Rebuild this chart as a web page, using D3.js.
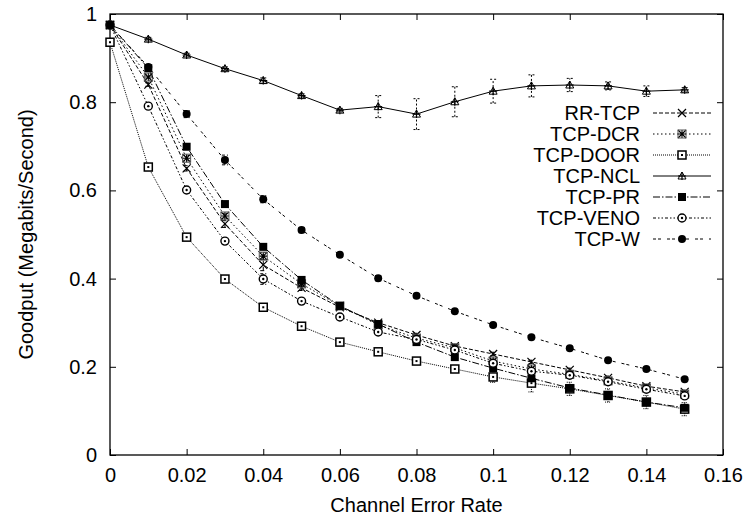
<!DOCTYPE html>
<html>
<head>
<meta charset="utf-8">
<script src="https://cdn.jsdelivr.net/npm/d3@7"></script>
<style>
body { margin: 0; background: #fff; }
text { font-family: "Liberation Sans", Arial, Helvetica, sans-serif; }
</style>
</head>
<body>
<div id="container"></div>
<script>
// values
const errorRate = [0, 0.01, 0.02, 0.03, 0.04, 0.05, 0.06, 0.07, 0.08, 0.09, 0.10, 0.11, 0.12, 0.13, 0.14, 0.15];
const seriesNames = ["RR-TCP", "TCP-DCR", "TCP-DOOR", "TCP-NCL", "TCP-PR", "TCP-VENO", "TCP-W"];

const rrTcp   = [0.975, 0.840, 0.650, 0.524, 0.431, 0.379, 0.335, 0.300, 0.272, 0.247, 0.229, 0.211, 0.193, 0.175, 0.156, 0.143];
const tcpDcr  = [0.975, 0.857, 0.673, 0.542, 0.451, 0.388, 0.338, 0.295, 0.265, 0.243, 0.213, 0.195, 0.183, 0.168, 0.152, 0.138];
const tcpDoor = [0.936, 0.653, 0.494, 0.399, 0.335, 0.292, 0.256, 0.234, 0.213, 0.195, 0.177, 0.163, 0.150, 0.135, 0.120, 0.104];
const tcpNcl  = [0.975, 0.943, 0.907, 0.876, 0.849, 0.815, 0.782, 0.790, 0.773, 0.801, 0.825, 0.837, 0.839, 0.837, 0.825, 0.828];
const tcpPr   = [0.975, 0.877, 0.699, 0.569, 0.472, 0.397, 0.338, 0.297, 0.256, 0.222, 0.197, 0.174, 0.152, 0.136, 0.120, 0.107];
const tcpVeno = [0.975, 0.791, 0.601, 0.485, 0.399, 0.349, 0.313, 0.279, 0.262, 0.238, 0.208, 0.190, 0.181, 0.166, 0.149, 0.134];
const tcpW    = [0.975, 0.880, 0.773, 0.669, 0.580, 0.510, 0.454, 0.401, 0.361, 0.326, 0.295, 0.267, 0.242, 0.215, 0.195, 0.172];

// half-widths of the error bars
const rrTcpErr   = [0, 0.004, 0.006, 0.008, 0.013, 0.006, 0.005, 0.005, 0.004, 0.004, 0.004, 0.004, 0.004, 0.004, 0.004, 0.004];
const tcpDcrErr  = [0, 0.004, 0.006, 0.006, 0.008, 0.005, 0.004, 0.004, 0.004, 0.004, 0.004, 0.004, 0.004, 0.004, 0.004, 0.004];
const tcpDoorErr = [0, 0, 0, 0, 0, 0, 0, 0, 0, 0, 0.012, 0.02, 0.015, 0.015, 0.015, 0.015];
const tcpNclErr  = [0, 0.004, 0.004, 0.004, 0.006, 0.004, 0.004, 0.025, 0.035, 0.034, 0.027, 0.025, 0.015, 0.009, 0.012, 0.005];
const tcpPrErr   = [0, 0.004, 0.005, 0.005, 0.005, 0.005, 0.004, 0.004, 0.004, 0.004, 0.004, 0.004, 0.004, 0.004, 0.004, 0.004];
const tcpVenoErr = [0, 0.004, 0.005, 0.005, 0.012, 0.005, 0.004, 0.004, 0.004, 0.004, 0.004, 0.004, 0.004, 0.004, 0.004, 0.004];
const tcpWErr    = [0, 0.005, 0.008, 0.011, 0.008, 0.006, 0.005, 0.006, 0.005, 0.004, 0.004, 0.004, 0.004, 0.004, 0.004, 0.004];

const xTicks = [0, 0.02, 0.04, 0.06, 0.08, 0.1, 0.12, 0.14, 0.16];
const yTicks = [0, 0.2, 0.4, 0.6, 0.8, 1];

// styles per series (gnuplot-like dash types and point types)
const dashes  = ["4,2", "1.5,2.5", "1,1", null, "7,2,1.5,2", "3,2,1.5,2,1.5,2", "3,2,3,6"];
const markers = ["cross", "star", "square", "plus", "squareFill", "circleDot", "circleFill"];
const values  = [rrTcp, tcpDcr, tcpDoor, tcpNcl, tcpPr, tcpVeno, tcpW];
const errors  = [rrTcpErr, tcpDcrErr, tcpDoorErr, tcpNclErr, tcpPrErr, tcpVenoErr, tcpWErr];

const series = seriesNames.map((name, i) => ({
    name: name,
    dash: dashes[i],
    marker: markers[i],
    points: errorRate.map((x, j) => ({ x: x, y: values[i][j], e: errors[i][j] }))
}));

const width = 751, height = 524;
const plotLeft = 110, plotRight = 723, plotTop = 14, plotBottom = 455;

const x = d3.scaleLinear().domain([0, 0.16]).range([plotLeft, plotRight]);
const y = d3.scaleLinear().domain([0, 1]).range([plotBottom, plotTop]);

const svg = d3.select("#container").append("svg")
    .attr("width", width)
    .attr("height", height)
    .style("display", "block");

// axes, ticks inward on all sides
const fmt = d => d === 0 ? "0" : d3.format("~g")(d);

const xAxis = svg.append("g")
    .attr("transform", `translate(0,${plotBottom})`)
    .call(d3.axisBottom(x).tickValues(xTicks).tickFormat(fmt).tickSizeInner(-6).tickSizeOuter(0).tickPadding(13));
const xAxisTop = svg.append("g")
    .attr("transform", `translate(0,${plotTop})`)
    .call(d3.axisTop(x).tickValues(xTicks).tickFormat("").tickSizeInner(-6).tickSizeOuter(0));
const yAxis = svg.append("g")
    .attr("transform", `translate(${plotLeft},0)`)
    .call(d3.axisLeft(y).tickValues(yTicks).tickFormat(fmt).tickSizeInner(-6).tickSizeOuter(0).tickPadding(13));
const yAxisRight = svg.append("g")
    .attr("transform", `translate(${plotRight},0)`)
    .call(d3.axisRight(y).tickValues(yTicks).tickFormat("").tickSizeInner(-6).tickSizeOuter(0));

[xAxis, xAxisTop, yAxis, yAxisRight].forEach(a => {
    a.select(".domain").remove();
    a.selectAll(".tick line").attr("stroke", "#000").attr("stroke-width", 1);
    a.selectAll("text").attr("font-size", 20).attr("fill", "#000")
        .attr("font-family", "'Liberation Sans', Arial, sans-serif");
});

svg.append("rect")
    .attr("x", plotLeft).attr("y", plotTop)
    .attr("width", plotRight - plotLeft).attr("height", plotBottom - plotTop)
    .attr("fill", "none").attr("stroke", "#000").attr("stroke-width", 1.3);

// axis titles
svg.append("text")
    .attr("x", (plotLeft + plotRight) / 2).attr("y", 505)
    .attr("dy", "0.35em")
    .attr("text-anchor", "middle")
    .attr("font-size", 20)
    .text("Channel Error Rate");

svg.append("text")
    .attr("transform", `translate(26,${(plotTop + plotBottom) / 2}) rotate(-90)`)
    .attr("dy", "0.35em")
    .attr("text-anchor", "middle")
    .attr("font-size", 20)
    .text("Goodput (Megabits/Second)");

// markers
function drawMarker(g, type, cx, cy) {
    const s = 4;
    if (type === "cross") {
        g.append("path").attr("d", `M${cx - s},${cy - s}L${cx + s},${cy + s}M${cx - s},${cy + s}L${cx + s},${cy - s}`)
            .attr("stroke", "#000").attr("stroke-width", 1.2).attr("fill", "none");
    } else if (type === "star") {
        g.append("path").attr("d", `M${cx - s},${cy - s}L${cx + s},${cy + s}M${cx - s},${cy + s}L${cx + s},${cy - s}M${cx - s},${cy}L${cx + s},${cy}M${cx},${cy - s}L${cx},${cy + s}`)
            .attr("stroke", "#000").attr("stroke-width", 1.1).attr("fill", "none");
        g.append("rect").attr("x", cx - s).attr("y", cy - s).attr("width", 2 * s).attr("height", 2 * s)
            .attr("fill", "none").attr("stroke", "#555").attr("stroke-width", 1);
    } else if (type === "square") {
        g.append("rect").attr("x", cx - s).attr("y", cy - s).attr("width", 2 * s).attr("height", 2 * s)
            .attr("fill", "#fff").attr("stroke", "#000").attr("stroke-width", 1.5);
        g.append("rect").attr("x", cx - 1).attr("y", cy - 1).attr("width", 2).attr("height", 2).attr("fill", "#000");
    } else if (type === "plus") {
        g.append("path").attr("d", `M${cx - s},${cy}L${cx + s},${cy}M${cx},${cy - s}L${cx},${cy + s}`)
            .attr("stroke", "#000").attr("stroke-width", 1.2).attr("fill", "none");
        g.append("path").attr("d", `M${cx - s},${cy + 3}L${cx},${cy - s}L${cx + s},${cy + 3}Z`)
            .attr("stroke", "#000").attr("stroke-width", 1).attr("fill", "none");
    } else if (type === "squareFill") {
        g.append("rect").attr("x", cx - s).attr("y", cy - s).attr("width", 2 * s).attr("height", 2 * s)
            .attr("fill", "#000");
    } else if (type === "circleDot") {
        g.append("circle").attr("cx", cx).attr("cy", cy).attr("r", s)
            .attr("fill", "#fff").attr("stroke", "#000").attr("stroke-width", 1.4);
        g.append("circle").attr("cx", cx).attr("cy", cy).attr("r", 1.2).attr("fill", "#000");
    } else if (type === "circleFill") {
        g.append("circle").attr("cx", cx).attr("cy", cy).attr("r", s).attr("fill", "#000");
    }
}

const line = d3.line().x(d => x(d.x)).y(d => y(d.y));

const plot = svg.append("g");

series.forEach(s => {
    const g = plot.append("g");
    g.append("path")
        .datum(s.points)
        .attr("d", line)
        .attr("fill", "none")
        .attr("stroke", "#000")
        .attr("stroke-width", 1)
        .attr("stroke-dasharray", s.dash);

    // error bars
    s.points.filter(p => p.e > 0).forEach(p => {
        const px = x(p.x), y0 = y(p.y - p.e), y1 = y(p.y + p.e);
        g.append("path")
            .attr("d", `M${px},${y0}L${px},${y1}M${px - 3},${y0}L${px + 3},${y0}M${px - 3},${y1}L${px + 3},${y1}`)
            .attr("stroke", "#000")
            .attr("stroke-width", 1)
            .attr("stroke-dasharray", s.dash || "2,2")
            .attr("fill", "none");
    });

    s.points.forEach(p => drawMarker(g, s.marker, x(p.x), y(p.y)));
});

// legend
const legend = svg.append("g");
series.forEach((s, i) => {
    const ly = 113 + i * 21;
    legend.append("text")
        .attr("x", 640).attr("y", ly)
        .attr("dy", "0.35em")
        .attr("text-anchor", "end")
        .attr("font-size", 20)
        .text(s.name);
    legend.append("line")
        .attr("x1", 653).attr("x2", 711)
        .attr("y1", ly).attr("y2", ly)
        .attr("stroke", "#000").attr("stroke-width", 1)
        .attr("stroke-dasharray", s.dash);
    drawMarker(legend, s.marker, 682, ly);
});
</script>
</body>
</html>
